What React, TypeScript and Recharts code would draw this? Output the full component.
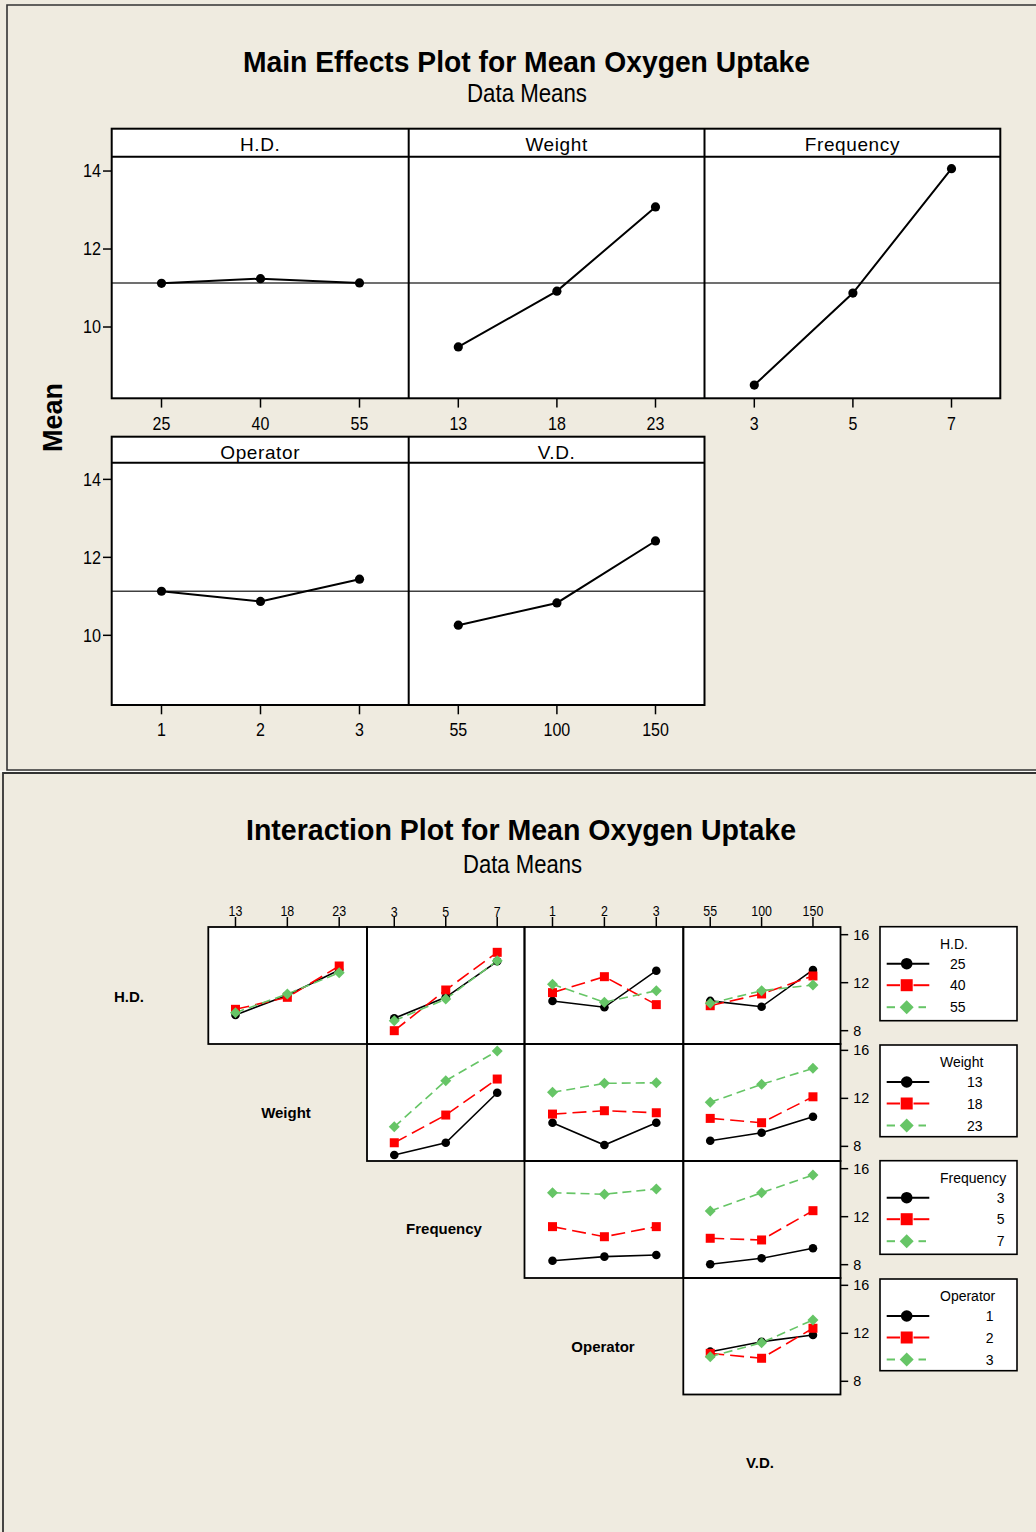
import React from 'react';
import { LineChart, Line, XAxis, YAxis, ReferenceLine } from 'recharts';

const FONT = '"Liberation Sans", Arial, sans-serif';
const BG = '#EFEBE0';
const RED = '#FF0000';
const GREEN = '#66C566';

// Factor levels
const hdLevels = ['25', '40', '55'];
const weightLevels = ['13', '18', '23'];
const freqLevels = ['3', '5', '7'];
const operatorLevels = ['1', '2', '3'];
const vdLevels = ['55', '100', '150'];

// Main effects: mean oxygen uptake at each level
const grandMean = 11.13;
const hdMeans = [11.12, 11.24, 11.13];
const weightMeans = [9.49, 10.92, 13.08];
const freqMeans = [8.51, 10.87, 14.06];
const operatorMeans = [11.13, 10.87, 11.44];
const vdMeans = [10.26, 10.83, 12.42];

// Interaction means: one inner array per trace level, across the x factor's levels
const hdByWeight = [[9.31, 10.95, 13.06], [9.78, 10.78, 13.39], [9.5, 11.06, 12.83]];
const hdByFreq = [[9.03, 10.78, 13.78], [8.0, 11.39, 14.53], [8.83, 10.64, 13.83]];
const hdByOperator = [[10.48, 9.95, 13.0], [11.17, 12.5, 10.17], [11.87, 10.37, 11.33]];
const hdByVd = [[10.48, 10.0, 13.06], [10.08, 11.06, 12.56], [10.28, 11.33, 11.81]];
const weightByFreq = [[7.28, 8.3, 12.47], [8.3, 10.61, 13.61], [9.63, 13.47, 15.94]];
const weightByOperator = [[9.97, 8.11, 9.97], [10.69, 10.97, 10.8], [12.5, 13.25, 13.3]];
const weightByVd = [[8.47, 9.13, 10.47], [10.33, 9.97, 12.13], [11.67, 13.17, 14.5]];
const freqByOperator = [[8.33, 8.67, 8.81], [11.17, 10.33, 11.17], [14.0, 13.87, 14.31]];
const freqByVd = [[8.03, 8.53, 9.37], [10.2, 10.06, 12.5], [12.47, 14.0, 15.47]];
const operatorByVd = [[10.47, 11.3, 11.86], [10.33, 9.92, 12.42], [10.05, 11.22, 13.11]];

const mainTicks = [10, 12, 14];
const interTicks = [8, 12, 16];

// ---------- layout ----------
const M_COLS = [111.7, 408.7, 704.5, 1000.3];
const M_ROW1 = { head: 128.7, top: 156.7, bottom: 398.3 };
const M_ROW2 = { head: 436.7, top: 462.7, bottom: 705 };

const I_COLS = [208.3, 367, 524.5, 683.3, 840.5];
const I_ROWS = [927, 1044, 1161, 1278, 1394.5];
const I_DOMAINS: [number, number][] = [[6.89, 16.64], [6.78, 16.53], [6.89, 16.64], [6.9, 16.61]];
const PAD = 12;

// ---------- marks ----------
const dotCircle = (r: number) => (p: any) => (
  <circle key={`c-${p.index}`} cx={p.cx} cy={p.cy} r={r} fill="#000" />
);
const dotSquare = (s: number) => (p: any) => (
  <rect key={`s-${p.index}`} x={p.cx - s / 2} y={p.cy - s / 2} width={s} height={s} fill={RED} />
);
const dotDiamond = (s: number) => (p: any) => (
  <polygon
    key={`d-${p.index}`}
    points={`${p.cx},${p.cy - s / 2} ${p.cx + s / 2},${p.cy} ${p.cx},${p.cy + s / 2} ${p.cx - s / 2},${p.cy}`}
    fill={GREEN}
  />
);

const TickText = (props: any) => {
  const { x, y, text, size, cw, dy, anchor } = props;
  return (
    <text
      x={x}
      y={y + dy}
      textAnchor={anchor}
      fontSize={size}
      fontFamily={FONT}
      fill="#000"
      textLength={cw * String(text).length}
      lengthAdjust="spacingAndGlyphs"
    >
      {text}
    </text>
  );
};

// ---------- main effects panel ----------
function MainPanel({ x0, x1, y0, y1, levels, means, showY, yDomain }: any) {
  const yw = showY ? 60 : 0;
  const xh = 40;
  const data = levels.map((_: string, i: number) => ({ i: i + 1, v: means[i] }));
  return (
    <div style={{ position: 'absolute', left: x0 - yw, top: y0 - PAD }}>
      <LineChart width={x1 - x0 + yw} height={y1 - y0 + xh + PAD} data={data} margin={{ top: PAD, right: 0, bottom: 0, left: 0 }}>
        <XAxis
          dataKey="i"
          type="number"
          domain={[0.5, 3.5]}
          ticks={[1, 2, 3]}
          interval={0}
          height={xh}
          tickSize={9}
          tickMargin={0}
          axisLine={false}
          tickLine={{ stroke: '#000', strokeWidth: 1.5 }}
          tick={(p: any) => (
            <TickText x={p.x} y={p.y} text={levels[p.payload.value - 1]} size={17.5} cw={8.9} dy={22} anchor="middle" />
          )}
        />
        <YAxis
          type="number"
          domain={yDomain}
          ticks={mainTicks}
          interval={0}
          allowDataOverflow
          hide={!showY}
          width={yw}
          tickSize={9}
          tickMargin={2}
          axisLine={false}
          tickLine={{ stroke: '#000', strokeWidth: 1.5 }}
          tick={(p: any) => (
            <TickText x={p.x} y={p.y} text={String(p.payload.value)} size={17.5} cw={9} dy={6.3} anchor="end" />
          )}
        />
        <ReferenceLine y={grandMean} stroke="#404040" strokeWidth={1.5} />
        <Line
          dataKey="v"
          stroke="#000"
          strokeWidth={2}
          isAnimationActive={false}
          dot={dotCircle(4.6)}
          activeDot={false}
        />
      </LineChart>
    </div>
  );
}

// ---------- interaction panel ----------
function InterPanel({ row, col, xLevels, traces }: any) {
  const x0 = I_COLS[col];
  const x1 = I_COLS[col + 1];
  const y0 = I_ROWS[row];
  const y1 = I_ROWS[row + 1];
  const showTop = row === 0;
  const showRight = col === 3;
  const th = showTop ? 30 : 0;
  const rw = showRight ? 44 : 0;
  const data = xLevels.map((_: string, i: number) => ({
    i: i + 1,
    a: traces[0][i],
    b: traces[1][i],
    c: traces[2][i],
  }));
  return (
    <div style={{ position: 'absolute', left: x0, top: y0 - th - PAD }}>
      <LineChart
        width={x1 - x0 + rw}
        height={y1 - y0 + th + 2 * PAD}
        data={data}
        margin={{ top: PAD, right: 0, bottom: PAD, left: 0 }}
      >
        <XAxis
          dataKey="i"
          type="number"
          orientation="top"
          domain={[0.47, 3.53]}
          ticks={[1, 2, 3]}
          interval={0}
          hide={!showTop}
          height={showTop ? th : 30}
          tickSize={10}
          tickMargin={0}
          axisLine={false}
          tickLine={{ stroke: '#000', strokeWidth: 1.5 }}
          tick={(p: any) => (
            <TickText x={p.x} y={p.y} text={xLevels[p.payload.value - 1]} size={14.8} cw={6.9} dy={-0.5} anchor="middle" />
          )}
        />
        <YAxis
          type="number"
          orientation="right"
          domain={I_DOMAINS[row]}
          ticks={interTicks}
          interval={0}
          allowDataOverflow
          hide={!showRight}
          width={showRight ? rw : 44}
          tickSize={8}
          tickMargin={5}
          axisLine={false}
          tickLine={{ stroke: '#000', strokeWidth: 1.5 }}
          tick={(p: any) => (
            <TickText x={p.x} y={p.y} text={String(p.payload.value)} size={14} cw={8} dy={5} anchor="start" />
          )}
        />
        <Line dataKey="a" stroke="#000" strokeWidth={1.6} isAnimationActive={false} dot={dotCircle(4.3)} activeDot={false} />
        <Line dataKey="b" stroke={RED} strokeWidth={1.6} strokeDasharray="14 6" isAnimationActive={false} dot={dotSquare(9)} activeDot={false} />
        <Line dataKey="c" stroke={GREEN} strokeWidth={1.6} strokeDasharray="9 5" isAnimationActive={false} dot={dotDiamond(11)} activeDot={false} />
      </LineChart>
    </div>
  );
}

// ---------- legend ----------
const legendTitles = ['H.D.', 'Weight', 'Frequency', 'Operator'];
const legendLevels = [hdLevels, weightLevels, freqLevels, operatorLevels];
const LEG_TOPS = [926.7, 1045, 1160.7, 1279];
const LEG_HEIGHTS = [94, 91.7, 93.6, 91.7];
const LEG_TITLE_END = [965.5, 982.5, 1004.5, 993.5];

function LegendBox({ k }: any) {
  const top = LEG_TOPS[k];
  const rows = [37, 58.5, 80.5];
  return (
    <g>
      <rect x={880} y={top} width={137} height={LEG_HEIGHTS[k]} fill="#fff" stroke="#000" strokeWidth={1.6} />
      <text x={940} y={top + 22} fontSize={14} fontFamily={FONT} fill="#000">
        {legendTitles[k]}
      </text>
      {legendLevels[k].map((lv: string, j: number) => {
        const cy = top + rows[j];
        return (
          <g key={lv}>
            {j === 0 && (
              <g>
                <line x1={886.7} x2={929.3} y1={cy} y2={cy} stroke="#000" strokeWidth={2} />
                <circle cx={906.7} cy={cy} r={5.8} fill="#000" />
              </g>
            )}
            {j === 1 && (
              <g>
                <line x1={886.7} x2={900} y1={cy} y2={cy} stroke={RED} strokeWidth={2} />
                <line x1={913.5} x2={929.3} y1={cy} y2={cy} stroke={RED} strokeWidth={2} />
                <rect x={900.7} y={cy - 6} width={12} height={12} fill={RED} />
              </g>
            )}
            {j === 2 && (
              <g>
                <line x1={886.7} x2={895} y1={cy} y2={cy} stroke={GREEN} strokeWidth={2} />
                <line x1={918.5} x2={926} y1={cy} y2={cy} stroke={GREEN} strokeWidth={2} />
                <polygon
                  points={`906.7,${cy - 7} 913.7,${cy} 906.7,${cy + 7} 899.7,${cy}`}
                  fill={GREEN}
                />
              </g>
            )}
            <text x={LEG_TITLE_END[k]} y={cy + 5} textAnchor="end" fontSize={14} fontFamily={FONT} fill="#000">
              {lv}
            </text>
          </g>
        );
      })}
    </g>
  );
}

export default function App() {
  const W = 1036;
  const H = 1532;
  const interPanels = [
    { row: 0, col: 0, x: weightLevels, t: hdByWeight },
    { row: 0, col: 1, x: freqLevels, t: hdByFreq },
    { row: 0, col: 2, x: operatorLevels, t: hdByOperator },
    { row: 0, col: 3, x: vdLevels, t: hdByVd },
    { row: 1, col: 1, x: freqLevels, t: weightByFreq },
    { row: 1, col: 2, x: operatorLevels, t: weightByOperator },
    { row: 1, col: 3, x: vdLevels, t: weightByVd },
    { row: 2, col: 2, x: operatorLevels, t: freqByOperator },
    { row: 2, col: 3, x: vdLevels, t: freqByVd },
    { row: 3, col: 3, x: vdLevels, t: operatorByVd },
  ];
  const diagLabels = [
    { t: 'H.D.', x: 129, y: 1002 },
    { t: 'Weight', x: 286, y: 1118 },
    { t: 'Frequency', x: 444, y: 1234 },
    { t: 'Operator', x: 603, y: 1352 },
    { t: 'V.D.', x: 760, y: 1468 },
  ];

  return (
    <div style={{ position: 'absolute', left: 0, top: 0, width: W, height: H, background: BG, fontFamily: FONT, overflow: 'hidden' }}>
      {/* backgrounds */}
      <svg width={W} height={H} style={{ position: 'absolute', left: 0, top: 0 }}>
        <rect x={0} y={0} width={W} height={H} fill={BG} />
        <rect x={0} y={770.5} width={W} height={2} fill="#fafaf7" />
        <path d={`M ${W + 2} 5 H 7 V 770 H ${W + 2}`} fill="none" stroke="#333" strokeWidth={1.6} />
        <path d={`M ${W + 2} 773 H 3 V ${H + 2}`} fill="none" stroke="#333" strokeWidth={1.8} />
        <rect x={M_COLS[0]} y={M_ROW1.head} width={M_COLS[3] - M_COLS[0]} height={M_ROW1.bottom - M_ROW1.head} fill="#fff" />
        <rect x={M_COLS[0]} y={M_ROW2.head} width={M_COLS[2] - M_COLS[0]} height={M_ROW2.bottom - M_ROW2.head} fill="#fff" />
        {interPanels.map((p) => (
          <rect
            key={`bg-${p.row}-${p.col}`}
            x={I_COLS[p.col]}
            y={I_ROWS[p.row]}
            width={I_COLS[p.col + 1] - I_COLS[p.col]}
            height={I_ROWS[p.row + 1] - I_ROWS[p.row]}
            fill="#fff"
          />
        ))}
      </svg>

      {/* main effects panels */}
      <MainPanel x0={M_COLS[0]} x1={M_COLS[1]} y0={M_ROW1.top} y1={M_ROW1.bottom} levels={hdLevels} means={hdMeans} showY yDomain={[8.164, 14.36]} />
      <MainPanel x0={M_COLS[1]} x1={M_COLS[2]} y0={M_ROW1.top} y1={M_ROW1.bottom} levels={weightLevels} means={weightMeans} showY={false} yDomain={[8.164, 14.36]} />
      <MainPanel x0={M_COLS[2]} x1={M_COLS[3]} y0={M_ROW1.top} y1={M_ROW1.bottom} levels={freqLevels} means={freqMeans} showY={false} yDomain={[8.164, 14.36]} />
      <MainPanel x0={M_COLS[0]} x1={M_COLS[1]} y0={M_ROW2.top} y1={M_ROW2.bottom} levels={operatorLevels} means={operatorMeans} showY yDomain={[8.205, 14.42]} />
      <MainPanel x0={M_COLS[1]} x1={M_COLS[2]} y0={M_ROW2.top} y1={M_ROW2.bottom} levels={vdLevels} means={vdMeans} showY={false} yDomain={[8.205, 14.42]} />

      {/* interaction panels */}
      {interPanels.map((p) => (
        <InterPanel key={`ip-${p.row}-${p.col}`} row={p.row} col={p.col} xLevels={p.x} traces={p.t} />
      ))}

      {/* frames, titles, labels, legends */}
      <svg width={W} height={H} style={{ position: 'absolute', left: 0, top: 0, pointerEvents: 'none' }}>
        <text x={526.5} y={71.5} textAnchor="middle" fontSize={30} fontWeight="bold" fontFamily={FONT} fill="#000" textLength={567} lengthAdjust="spacingAndGlyphs">
          Main Effects Plot for Mean Oxygen Uptake
        </text>
        <text x={527} y={102} textAnchor="middle" fontSize={25} fontFamily={FONT} fill="#000" textLength={120} lengthAdjust="spacingAndGlyphs">
          Data Means
        </text>
        <text transform="translate(61.7,417.5) rotate(-90)" textAnchor="middle" fontSize={27} fontWeight="bold" fontFamily={FONT} fill="#000" textLength={69} lengthAdjust="spacingAndGlyphs">
          Mean
        </text>

        {/* main effects frames */}
        <rect x={M_COLS[0]} y={M_ROW1.head} width={M_COLS[3] - M_COLS[0]} height={M_ROW1.bottom - M_ROW1.head} fill="none" stroke="#000" strokeWidth={2} />
        <line x1={M_COLS[0]} x2={M_COLS[3]} y1={M_ROW1.top} y2={M_ROW1.top} stroke="#000" strokeWidth={2} />
        <line x1={M_COLS[1]} x2={M_COLS[1]} y1={M_ROW1.head} y2={M_ROW1.bottom} stroke="#000" strokeWidth={2} />
        <line x1={M_COLS[2]} x2={M_COLS[2]} y1={M_ROW1.head} y2={M_ROW1.bottom} stroke="#000" strokeWidth={2} />
        <rect x={M_COLS[0]} y={M_ROW2.head} width={M_COLS[2] - M_COLS[0]} height={M_ROW2.bottom - M_ROW2.head} fill="none" stroke="#000" strokeWidth={2} />
        <line x1={M_COLS[0]} x2={M_COLS[2]} y1={M_ROW2.top} y2={M_ROW2.top} stroke="#000" strokeWidth={2} />
        <line x1={M_COLS[1]} x2={M_COLS[1]} y1={M_ROW2.head} y2={M_ROW2.bottom} stroke="#000" strokeWidth={2} />
        {['H.D.', 'Weight', 'Frequency'].map((t, i) => (
          <text key={t} x={(M_COLS[i] + M_COLS[i + 1]) / 2} y={151} textAnchor="middle" fontSize={19} fontFamily={FONT} fill="#000" letterSpacing={0.6}>
            {t}
          </text>
        ))}
        {['Operator', 'V.D.'].map((t, i) => (
          <text key={t} x={(M_COLS[i] + M_COLS[i + 1]) / 2} y={459} textAnchor="middle" fontSize={19} fontFamily={FONT} fill="#000" letterSpacing={0.6}>
            {t}
          </text>
        ))}

        {/* interaction plot */}
        <text x={521} y={840} textAnchor="middle" fontSize={30} fontWeight="bold" fontFamily={FONT} fill="#000" textLength={550} lengthAdjust="spacingAndGlyphs">
          Interaction Plot for Mean Oxygen Uptake
        </text>
        <text x={522.5} y={872.5} textAnchor="middle" fontSize={25} fontFamily={FONT} fill="#000" textLength={119} lengthAdjust="spacingAndGlyphs">
          Data Means
        </text>
        {interPanels.map((p) => (
          <rect
            key={`fr-${p.row}-${p.col}`}
            x={I_COLS[p.col]}
            y={I_ROWS[p.row]}
            width={I_COLS[p.col + 1] - I_COLS[p.col]}
            height={I_ROWS[p.row + 1] - I_ROWS[p.row]}
            fill="none"
            stroke="#000"
            strokeWidth={1.8}
          />
        ))}
        {diagLabels.map((d) => (
          <text key={d.t} x={d.x} y={d.y} textAnchor="middle" fontSize={15} fontWeight="bold" fontFamily={FONT} fill="#000">
            {d.t}
          </text>
        ))}
        {[0, 1, 2, 3].map((k) => (
          <LegendBox key={k} k={k} />
        ))}
      </svg>
    </div>
  );
}
